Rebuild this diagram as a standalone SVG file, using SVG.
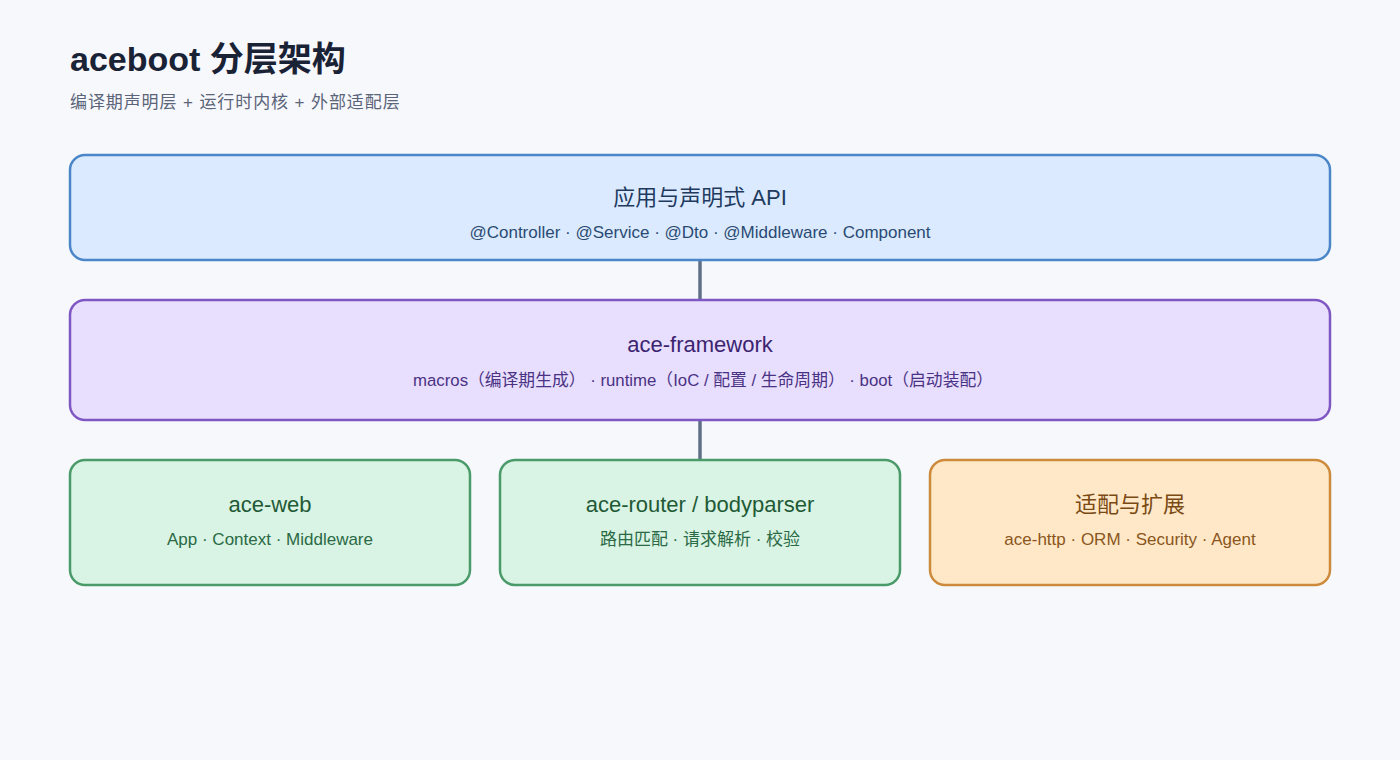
<svg xmlns="http://www.w3.org/2000/svg" width="1400" height="760" viewBox="0 0 1400 760">
<style>
text{font-family:"Liberation Sans","Noto Sans CJK SC",Arial,sans-serif;}
.t{font-size:22px;text-anchor:middle;}
.s{font-size:17px;text-anchor:middle;}
.box{stroke-width:2.5;}
.blue rect{fill:#dbeafe;stroke:#4a86c8;}
.blue text{fill:#1e3a5f;}
.blue .s{fill:#2a4a74;}
.purple rect{fill:#e8defe;stroke:#7e57c2;}
.purple text{fill:#3b2470;}
.purple .s{fill:#4a3284;}
.green rect{fill:#d9f3e4;stroke:#4a9a6a;}
.green text{fill:#1f5a36;}
.green .s{fill:#2a6a44;}
.orange rect{fill:#ffe8c8;stroke:#cc8a3a;}
.orange text{fill:#7a4a14;}
.orange .s{fill:#8a5620;}
.conn{stroke:#5f7086;stroke-width:3.5;fill:none;}
</style>
<rect width="1400" height="760" fill="#f6f8fc"/>
<text x="70" y="71" font-size="34" font-weight="bold" fill="#1a2236">aceboot 分层架构</text>
<text x="70" y="108" font-size="17" letter-spacing="0.9" fill="#5b6478">编译期声明层 + 运行时内核 + 外部适配层</text>
<g id="connectors">
<line class="conn" x1="700" y1="260" x2="700" y2="300"/>
<line class="conn" x1="700" y1="420" x2="700" y2="460"/>
</g>
<g id="api" class="blue">
<rect class="box" x="70" y="155" width="1260" height="105" rx="15"/>
<text class="t" x="700" y="205">应用与声明式 API</text>
<text class="s" x="700" y="238">@Controller · @Service · @Dto · @Middleware · Component</text>
</g>
<g id="framework" class="purple">
<rect class="box" x="70" y="300" width="1260" height="120" rx="15"/>
<text class="t" x="700" y="352">ace-framework</text>
<text class="s" x="703" y="386" style="font-size:16.8px">macros（编译期生成） · runtime（IoC / 配置 / 生命周期） · boot（启动装配）</text>
</g>
<g id="web" class="green">
<rect class="box" x="70" y="460" width="400" height="125" rx="15"/>
<text class="t" x="270" y="512">ace-web</text>
<text class="s" x="270" y="545">App · Context · Middleware</text>
</g>
<g id="router" class="green">
<rect class="box" x="500" y="460" width="400" height="125" rx="15"/>
<text class="t" x="700" y="512">ace-router / bodyparser</text>
<text class="s" x="700" y="545">路由匹配 · 请求解析 · 校验</text>
</g>
<g id="adapt" class="orange">
<rect class="box" x="930" y="460" width="400" height="125" rx="15"/>
<text class="t" x="1130" y="512">适配与扩展</text>
<text class="s" x="1130" y="545">ace-http · ORM · Security · Agent</text>
</g>
</svg>
